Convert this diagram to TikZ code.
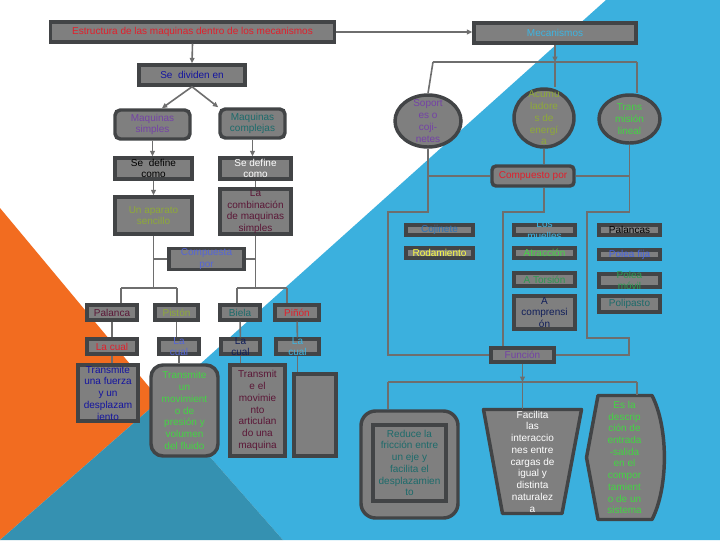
\documentclass[tikz,border=0pt]{standalone}
\usepackage{fontspec}
\setmainfont{Liberation Sans}
\usetikzlibrary{calc, arrows.meta, shapes.geometric}

\definecolor{boxfill}{HTML}{7F7F7F}
\definecolor{boxline}{HTML}{424446}
\definecolor{wirec}{HTML}{6E6E6E}
\definecolor{bgblue}{HTML}{3BB0DE}
\definecolor{bgorange}{HTML}{F26C20}
\definecolor{bgteal}{HTML}{3591B1}
\definecolor{tred}{HTML}{E21F2B}
\definecolor{tcyan}{HTML}{3DB5E2}
\definecolor{tnavy}{HTML}{1414A0}
\definecolor{tpurple}{HTML}{7442A6}
\definecolor{tteal}{HTML}{1D6B6B}
\definecolor{tolive}{HTML}{8EAA38}
\definecolor{tmaroon}{HTML}{5B1737}
\definecolor{tviolet}{HTML}{5566D6}
\definecolor{tgreen}{HTML}{44D444}
\definecolor{tdkgreen}{HTML}{2E9A52}
\definecolor{tblue}{HTML}{2F74B5}
\definecolor{tyellow}{HTML}{FFFF44}
\definecolor{tdknavy}{HTML}{101E5A}
\definecolor{tpolea}{HTML}{4363E3}

\begin{document}
\begin{tikzpicture}[
  x=0.75pt, y=-0.75pt,
  >={Triangle[length=4pt, width=3.5pt]},
  box/.style   = {draw=boxline, fill=boxfill, line width=2.6pt, inner sep=0pt,
                  align=center, font=\fontsize{7.5}{8.8}\selectfont},
  rbox/.style  = {box, rounded corners=#1},
  oval/.style  = {box, ellipse},
  lbl/.style   = {align=center, inner sep=0pt, font=\fontsize{7.5}{8.8}\selectfont},
  sz/.style 2 args = {minimum width=#1*0.75pt, minimum height=#2*0.75pt},
  link/.style  = {draw=wirec, line width=1.2pt},
  shapeline/.style = {draw=boxline, fill=boxfill, line width=2.6pt, line join=round},
]
  \useasboundingbox (0,0) rectangle (720,540);
  % background
  \fill[white]    (0,0) rectangle (720,540);
  \fill[bgblue]   (606,0) -- (720,0) -- (720,540) -- (283,540) -- (160,400) -- cycle;
  \fill[bgorange] (0,208) -- (160,400) -- (0,540) -- cycle;
  \fill[bgteal]   (0,540) -- (160,400) -- (283,540) -- cycle;

  % left tree
  \node[box, sz={284}{20}, text=tred]     (est)  at (192.5,32)  {Estructura de las maquinas dentro de los mecanismos};
  \node[box, sz={162}{20}, text=tcyan]    (mec)  at (555,33)    {Mecanismos};
  \node[box, sz={106}{20}, text=tnavy]    (div)  at (192,75)    {Se \ dividen en};
  \node[rbox=4pt, sz={75}{29}, text=tpurple] (msim) at (152.5,124.5) {Maquinas\\simples};
  \node[rbox=4pt, sz={65}{29}, text=tteal]   (mcom) at (252.5,123.5) {Maquinas\\complejas};
  \node[box, sz={77}{21}, text=black]     (defl) at (153.5,168.5) {Se \ define\\como};
  \node[box, sz={71}{21}, text=white]     (defr) at (255.5,168.5) {Se define\\como};
  \node[box, sz={77}{37}, text=tolive]    (apar) at (153.5,215.5) {Un aparato\\sencillo};
  \node[box, sz={71}{45}, text=tmaroon]   (comb) at (255.5,211.5) {La\\combinación\\de maquinas\\simples};
  \node[box, sz={75}{20}, text=tviolet]   (cpta) at (206.5,259)   {Compuesta\\por};

  \node[box, sz={50}{15}, text=tmaroon]   (pal)  at (112,312.5)   {Palanca};
  \node[box, sz={43}{15}, text=tolive]    (cuna) at (176.5,312.5) {Pistón};
  \node[box, sz={40}{15}, text=tteal]     (bie)  at (240,312.5)   {Biela};
  \node[box, sz={44}{15}, text=tred]      (pin)  at (297,312.5)   {Piñón};

  \node[box, sz={50}{15}, text=tred]      (cual1) at (112,346.5)  {La cual};
  \node[box, sz={40}{15}, label={[lbl, text=tviolet]center:La\\cual}] (cual2) at (179,346.5) {};
  \node[box, sz={39}{15}, label={[lbl, text=tdknavy]center:La\\cual}] (cual3) at (240.5,346.5) {};
  \node[box, sz={43}{15}, label={[lbl, text=tcyan]center:La\\cual}]   (cual4) at (297.5,346.5) {};

  \node[box, sz={60}{56}, text=tnavy]     (tra1) at (108,393)     {Transmite\\una fuerza\\y un\\desplazam\\iento};
  \node[rbox=9pt, sz={67}{91}, text=tgreen] (tra2) at (184.5,410.5) {Transmite\\un\\movimient\\o de\\presión y\\volumen\\del fluido};
  \node[box, sz={55}{91}, text=tmaroon]   (tra3) at (257.5,410.5) {Transmit\\e el\\movimie\\nto\\articulan\\do una\\maquina};
  \node[box, sz={42}{82}]                 (emp)  at (315,415)     {};

  % right tree
  \node[oval, sz={66}{52}, label={[lbl, text=tpurple]center:Soport\\es o\\coji-\\netes}]   (sop) at (428,121) {};
  \node[oval, sz={60}{58}, label={[lbl, text=tolive]center:Acumu\\ladore\\s de\\energí\\a}] (acu) at (544,118) {};
  \node[oval, sz={61}{48}, label={[lbl, text=tgreen]center:Trans\\misión\\lineal}]         (tln) at (629.5,119) {};
  \node[rbox=3pt, sz={82}{20}, text=tred] (cpto) at (533,176)     {Compuesto por};

  \node[box, sz={67}{10}, text=tblue]     (coj)  at (439.5,230)   {Cojinete};
  \node[box, sz={67}{10}, text=tyellow]   (rod)  at (439.5,253)   {Rodamiento};
  \node[box, sz={61}{10}, label={[lbl, text=tcyan]center:Los\\muelles}] (mue) at (544.5,230) {};
  \node[box, sz={61}{10}, text=tgreen]    (atr)  at (544.5,253)   {Atracción};
  \node[box, sz={61}{13}, text=tdkgreen]  (tor)  at (544.5,279.5) {A Torsión};
  \node[box, sz={61}{33}, text=tdknavy]   (cmp)  at (544.5,312.5) {A\\comprensi\\ón};
  \node[box, sz={61}{10}, text=black]     (plc)  at (629.5,230)   {Palancas};
  \node[box, sz={61}{9},  text=tpolea]    (pfj)  at (629.5,254.5) {Polea fija};
  \node[box, sz={61}{13}, label={[lbl, text=tdkgreen]center:Polea\\móvil}] (pmv) at (629.5,280.5) {};
  \node[box, sz={61}{16}, text=tteal]     (pls)  at (629.5,304)   {Polipasto};
  \node[box, sz={63}{14}, text=tpurple]   (fun)  at (522.5,355)   {Función};

  \node[rbox=11pt, sz={97}{107}]          (redo) at (409.5,464.5) {};
  \node[box, sz={73}{76}, text=tteal]     (redi) at (409.5,463)   {Reduce la\\fricción entre\\un eje y\\facilita el\\desplazamien\\to};

  \coordinate (facc) at (532.5,461.5);
  \draw[shapeline] ($(facc)+(-49,-52)$) -- ($(facc)+(49,-52)$)
    -- ($(facc)+(29.5,52)$) -- ($(facc)+(-30,52)$) -- cycle;
  \node[lbl, sz={99}{105}, text=white] (fac) at (facc)
    {Facilita\\las\\interaccio\\nes entre\\cargas de\\igual y\\distinta\\naturalez\\a};

  \coordinate (esdc) at (624.5,457.5);
  \draw[shapeline] ($(esdc)+(-26.5,-62)$) -- ($(esdc)+(27.5,-62)$)
    .. controls ($(esdc)+(44,-30)$) and ($(esdc)+(44,30)$) .. ($(esdc)+(27.5,62)$)
    -- ($(esdc)+(-26.5,62)$) -- ($(esdc)+(-38,0)$) -- cycle;
  \node[lbl, sz={77}{125}, text=tgreen] (esd) at (esdc)
    {Es la\\descrip\\ción de\\entrada\\-salida\\en el\\compor\\tamient\\o de un\\sistema};

  % connectors, left
  \draw[link,->] (est.east) -- (est.east -| mec.west);
  \draw[link,->] (est.south) -- (div.north);
  \draw[link,->] (div.south) -- (msim.60);
  \draw[link,->] (div.south) -- (mcom.north west);
  \draw[link,->] (msim.south) -- (msim.south |- defl.north);
  \draw[link,->] (mcom.south) -- (mcom.south |- defr.north);
  \draw[link,->] (defl.south) -- (defl.south |- apar.north);
  \draw[link]    (defr.south) -- (defr.south |- comb.north);

  \coordinate (lj)  at (153.5,288);
  \coordinate (rj)  at (255.5,288);
  \coordinate (lt1) at (121,288);
  \coordinate (lt2) at (177,288);
  \coordinate (rt1) at (237,288);
  \coordinate (rt2) at (287,288);
  \draw[link] (apar.south) -- (lj);
  \draw[link] (comb.south) -- (rj);
  \draw[link] (cpta.west) -- (cpta.west -| lj);
  \draw[link] (cpta.east) -- (cpta.east -| rj);
  \draw[link] (lt1) -- (lt2);
  \draw[link] (rt1) -- (rt2);
  \draw[link] (lt1) -- (lt1 |- pal.north);
  \draw[link] (lt2) -- (lt2 |- cuna.north);
  \draw[link] (rt1) -- (rt1 |- bie.north);
  \draw[link] (rt2) -- (rt2 |- pin.north);
  \draw[link] (pal) -- (cual1);
  \draw[link] (cuna.south) -- (cuna.south |- cual2.north);
  \draw[link] (bie) -- (cual3);
  \draw[link] (pin) -- (cual4);
  \draw[link] (cual1.south) -- (cual1.south |- tra1.north);
  \draw[link] (cual2.south) -- (cual2.south |- tra2.north);
  \draw[link] (cual3.south) -- (cual3.south |- tra3.north);
  \draw[link] (cual4.south) -- (cual4.south |- emp.north);

  % connectors, right
  \coordinate (mj) at (555,62);
  \coordinate (ml) at (433,62);
  \coordinate (mr) at (637,62);
  \draw[link,->] (mec.south) -- (mj);
  \draw[link] (ml) -- (mr);
  \draw[link] (ml) -- (sop.north);
  \draw[link] (mj) -- (mj |- acu.north);
  \draw[link] (mr) -- (mr |- tln.north);

  \coordinate (sopb) at (388,212);
  \coordinate (cptb) at (503,212);
  \coordinate (tlnb) at (587,212);
  \coordinate (tlnc) at (587,338);
  \coordinate (tlnd) at (629,355);
  \draw[link] (sop.south) |- (sopb) |- (fun.west);
  \draw[link] (acu.south) -- (acu.south |- cpto.north);
  \draw[link] (acu.south |- cpto.south) |- (cptb) -- (cptb |- fun.north);
  \draw[link] (tln.south) |- (tlnb) -- (tlnc) -| (tlnd) -- (fun.east);
  \draw[link] (sop.south |- cpto.west) -- (cpto.west);
  \draw[link] (cpto.east) -- (cpto.east -| tln.south);

  \coordinate (fj) at (522.5,382);
  \coordinate (fl) at (388,382);
  \coordinate (fr) at (637,382);
  \draw[link,->] (fun.south) -- (fj);
  \draw[link] (fl) -- (fr);
  \draw[link] (fl) -- (fl |- redo.north);
  \draw[link] (fj) -- (fj |- fac.north);
  \draw[link] (fr) -- (fr |- esd.north);
\end{tikzpicture}
\end{document}
